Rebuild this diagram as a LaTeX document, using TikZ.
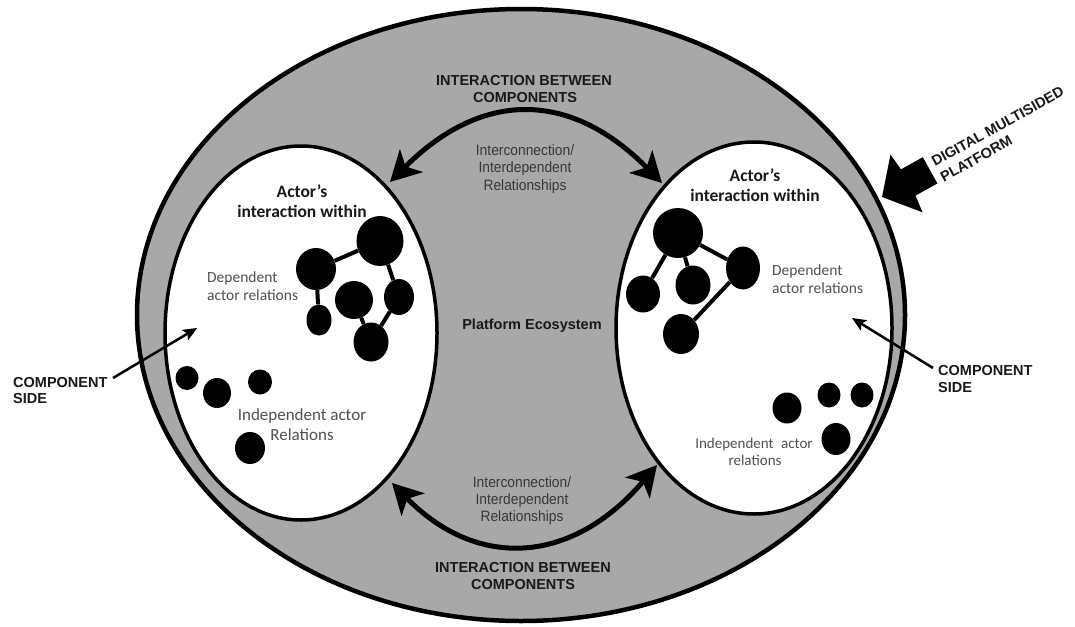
\documentclass[tikz,border=0pt]{standalone}
\usepackage{fontspec}
\setmainfont{Liberation Sans}
\newfontfamily\calib{Carlito}
\newfontfamily\narrowf[FakeStretch=0.92]{Liberation Sans}
\usetikzlibrary{arrows.meta,shapes.geometric}
\definecolor{ringgray}{RGB}{168,168,168}
\definecolor{softtxt}{RGB}{80,80,80}
\definecolor{darktxt}{RGB}{55,55,55}
\definecolor{inktxt}{RGB}{25,25,25}
\tikzset{
  platform/.style={ellipse, draw, fill=ringgray, line width=4.5pt, inner sep=0pt},
  zone/.style={ellipse, draw, fill=white, line width=3.5pt, inner sep=0pt},
  actor/.style={ellipse, fill=black, inner sep=0pt},
  link/.style={line width=4pt},
  biarrow/.style={line width=5pt, {Stealth[length=30pt,width=32pt,inset=8pt]}-{Stealth[length=30pt,width=32pt,inset=8pt]}},
  sidearrow/.style={line width=2.5pt, -{Stealth[length=14pt,width=12pt,inset=3pt]}},
  capstxt/.style={font=\bfseries\fontsize{14.5}{17}\selectfont, text=inktxt, inner sep=0pt},
  headtxt/.style={font=\calib\bfseries\fontsize{17.5}{20}\selectfont, text=inktxt, inner sep=0pt},
  reltxt/.style={font=\calib\fontsize{15.5}{18}\selectfont, text=softtxt, inner sep=0pt},
  indtxt/.style={font=\calib\fontsize{17}{20}\selectfont, text=softtxt, inner sep=0pt},
  indtxtb/.style={font=\calib\fontsize{15}{17}\selectfont, text=softtxt, inner sep=0pt},
  linktxt/.style={font=\narrowf\fontsize{15}{17}\selectfont, text=darktxt, inner sep=0pt},
}
\begin{document}
\begin{tikzpicture}[x=1pt,y=-1pt]
\useasboundingbox (0,0) rectangle (1075,626);
\fill[white] (0,0) rectangle (1075,626);

% outer platform
\node[platform, minimum width=768pt, minimum height=612pt] (P) at (521,315) {};

% component sides
\node[zone, minimum width=272pt, minimum height=374pt] (L) at (301,333) {};
\node[zone, minimum width=276pt, minimum height=372pt] (R) at (754,328) {};

% texts in the ring
\node[capstxt, anchor=base] (itop1) at (524,85) {INTERACTION BETWEEN};
\node[capstxt, anchor=base] (itop2) at (525,102) {COMPONENTS};
\node[linktxt, anchor=base] (rtop1) at (525,155) {Interconnection/};
\node[linktxt, anchor=base] (rtop2) at (525,172.5) {Interdependent};
\node[linktxt, anchor=base] (rtop3) at (525,190) {Relationships};
\node[linktxt, anchor=base] (rbot1) at (522,487) {Interconnection/};
\node[linktxt, anchor=base] (rbot2) at (522,504) {Interdependent};
\node[linktxt, anchor=base] (rbot3) at (522,521) {Relationships};
\node[capstxt, anchor=base] (ibot1) at (523,572) {INTERACTION BETWEEN};
\node[capstxt, anchor=base] (ibot2) at (523,589) {COMPONENTS};
\node[capstxt, anchor=base] (eco) at (532,329.5) {Platform Ecosystem};

% interaction arrows
\coordinate (tl) at (390,182);
\coordinate (tr) at (662,183);
\coordinate (bl) at (392,483);
\coordinate (br) at (657,465);
\draw[biarrow] (tl) .. controls (482,90) and (570,90) .. (tr);
\draw[biarrow] (bl) .. controls (477,570) and (572,565) .. (br);

% left component
\node[headtxt, anchor=base] (lh1) at (302,197.5) {Actor’s};
\node[headtxt, anchor=base] (lh2) at (302,217.5) {interaction within};
\node[reltxt, anchor=base west] (ld1) at (207,282) {Dependent};
\node[reltxt, anchor=base west] (ld2) at (207,300) {actor relations};
\node[indtxt, anchor=base] (li1) at (302,420) {Independent actor};
\node[indtxt, anchor=base] (li2) at (302,440) {Relations};

\node[actor, minimum width=47pt, minimum height=50pt] (l1) at (380,241) {};
\node[actor, minimum width=40pt, minimum height=42pt] (l2) at (316,269) {};
\node[actor, minimum width=38pt, minimum height=38pt] (l3) at (354,300) {};
\node[actor, minimum width=30pt, minimum height=36pt] (l4) at (399,297) {};
\node[actor, minimum width=25pt, minimum height=31pt] (l5) at (319,320) {};
\node[actor, minimum width=35pt, minimum height=39pt] (l6) at (371,342) {};
\draw[link] (l2) -- (l1);
\draw[link] (l2) -- (l5);
\draw[link] (l1) -- (l4);
\draw[link] (l4) -- (l6);
\draw[link] (l3) -- (l6);

\node[actor, minimum width=23pt, minimum height=24pt] (la) at (187,378) {};
\node[actor, minimum width=28pt, minimum height=30pt] (lb) at (217,393) {};
\node[actor, minimum width=24pt, minimum height=25pt] (lc) at (260,382) {};
\node[actor, minimum width=30pt, minimum height=32pt] (ld) at (250,448) {};

% right component
\node[headtxt, anchor=base] (rh1) at (755,181) {Actor’s};
\node[headtxt, anchor=base] (rh2) at (755,201.5) {interaction within};
\node[reltxt, anchor=base west] (rd1) at (772,275) {Dependent};
\node[reltxt, anchor=base west] (rd2) at (772,293) {actor relations};
\node[indtxtb, anchor=base] (ri1) at (754,448) {Independent\enspace actor};
\node[indtxtb, anchor=base] (ri2) at (755,465) {relations};

\node[actor, minimum width=50pt, minimum height=50pt] (r1) at (678,233) {};
\node[actor, minimum width=34pt, minimum height=43pt] (r2) at (743,268) {};
\node[actor, minimum width=34pt, minimum height=37pt] (r3) at (643,294) {};
\node[actor, minimum width=35pt, minimum height=39pt] (r4) at (693,285) {};
\node[actor, minimum width=36pt, minimum height=40pt] (r5) at (681,334) {};
\draw[link] (r1) -- (r3);
\draw[link] (r1) -- (r4);
\draw[link] (r1) -- (r2);
\draw[link] (r2) -- (r5);

\node[actor, minimum width=29pt, minimum height=31pt] (re) at (787,408) {};
\node[actor, minimum width=23pt, minimum height=25pt] (rf) at (829,395) {};
\node[actor, minimum width=23pt, minimum height=25pt] (rg) at (862,395) {};
\node[actor, minimum width=29pt, minimum height=32pt] (rh) at (836,439) {};

% component side labels and arrows
\node[capstxt, anchor=base west] (cl1) at (13,387) {COMPONENT};
\node[capstxt, anchor=base west] (cl2) at (13,403) {SIDE};
\coordinate (cls) at (113,378);
\coordinate (clt) at (197,328);
\draw[sidearrow] (cls) -- (clt);

\node[capstxt, anchor=base west] (cr1) at (938,375) {COMPONENT};
\node[capstxt, anchor=base west] (cr2) at (938,392) {SIDE};
\coordinate (crs) at (933,368);
\coordinate (crt) at (852,318);
\draw[sidearrow] (crs) -- (crt);

% digital multisided platform block arrow
\begin{scope}[shift={(882,197)}, rotate=29]
  \fill[black] (0,0) -- (28,-33) -- (30,-15) -- (55,-15) -- (55,15) -- (30,15) -- (28,33) -- cycle;
\end{scope}
\node[capstxt, font=\bfseries\fontsize{14.5}{18}\selectfont, align=left, rotate=29, anchor=north west] (dmp) at (930,157.9) {DIGITAL MULTISIDED\\PLATFORM};
\end{tikzpicture}
\end{document}
